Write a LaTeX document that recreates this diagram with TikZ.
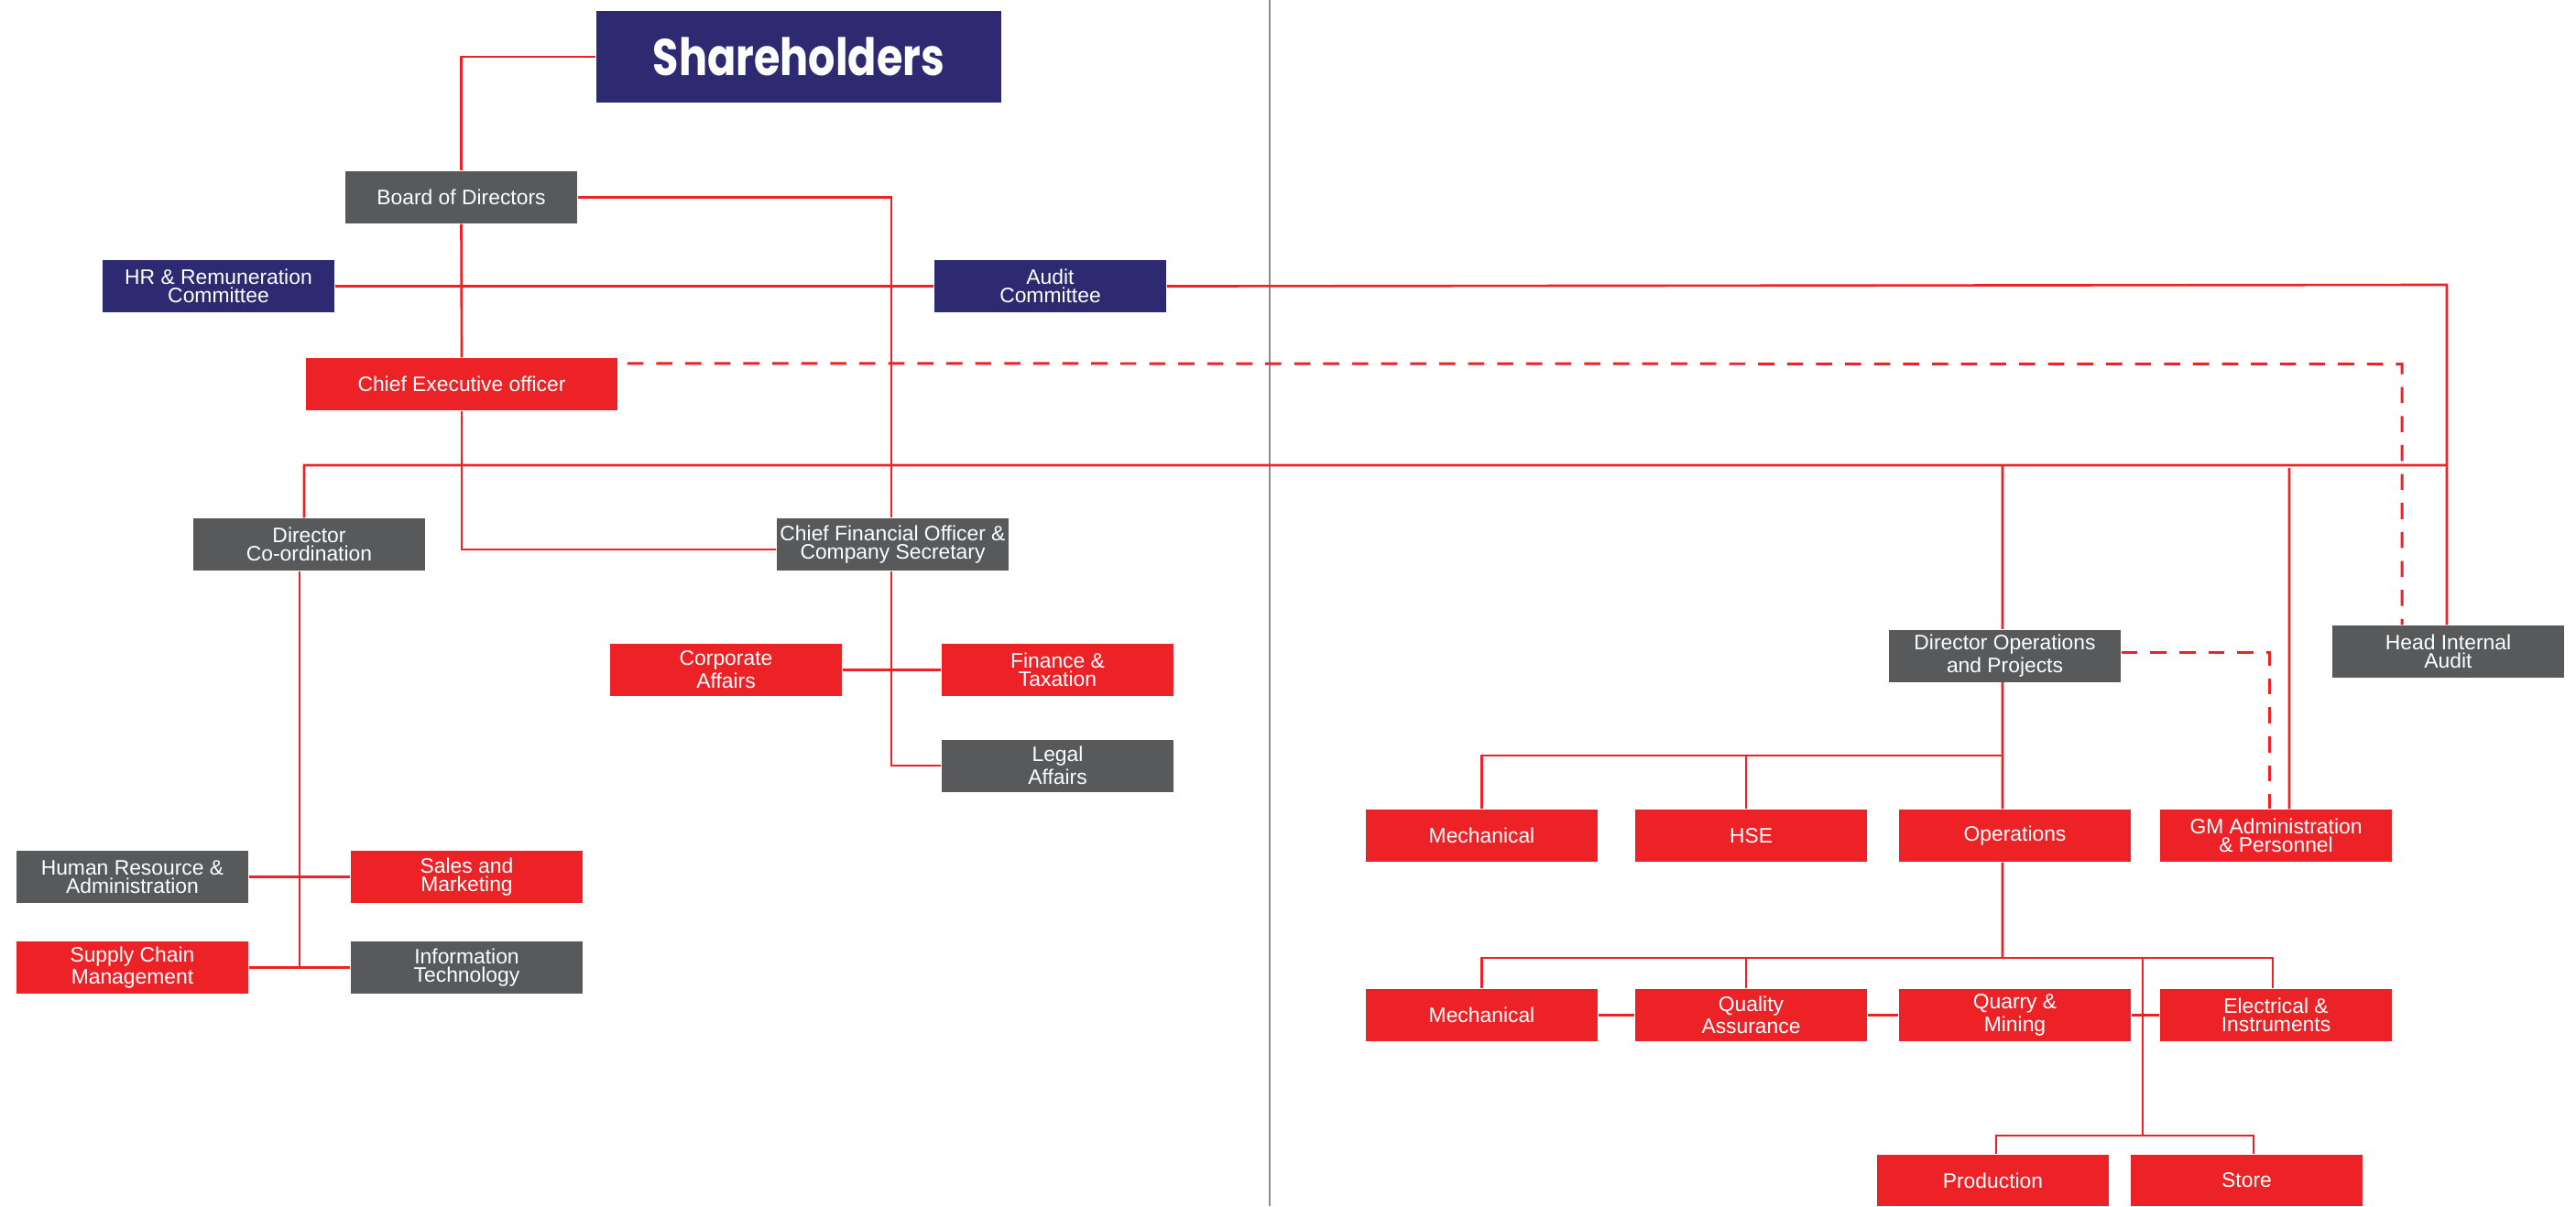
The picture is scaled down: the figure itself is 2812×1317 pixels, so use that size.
\documentclass[tikz,border=0pt]{standalone}
\usepackage{fontspec}
\setmainfont{Liberation Sans}
\newfontfamily\shfont{Poppins}
\definecolor{cred}{HTML}{EC2227}
\definecolor{cnavy}{HTML}{2E2A72}
\definecolor{cgrey}{HTML}{58595B}
\definecolor{csep}{HTML}{8C8C8C}
\tikzset{
  box/.style={inner sep=0pt, minimum width=2.53cm, minimum height=0.57cm, text=white, align=center, font=\fontsize{6.5}{5.8}\selectfont},
  redbox/.style={box, fill=cred},
  greybox/.style={box, fill=cgrey},
  navybox/.style={box, fill=cnavy},
  conn/.style={draw=cred, line width=0.75pt},
  dconn/.style={draw=cred, line width=0.85pt, dash pattern=on 5pt off 4pt},
}
\begin{document}
\begin{tikzpicture}[x=0.01cm, y=-0.01cm]
\useasboundingbox (0,0) rectangle (2812,1317);
% separator
\draw[csep, line width=0.6pt] (1386,0) -- (1386,1317);

% nodes
\node[navybox, minimum width=4.42cm, minimum height=1.0cm] (sh) at (872,62) {\shfont\bfseries\fontsize{16}{18}\selectfont\scalebox{0.82}[1]{Shareholders}};
\node[greybox] (bod) at (503.5,215.5) {Board of Directors};
\node[navybox] (hr) at (238.5,312.5) {HR \& Remuneration\\Committee};
\node[navybox] (audit) at (1146.5,312.5) {Audit\\Committee};
\node[redbox, minimum width=3.4cm] (ceo) at (504,419.5) {Chief Executive officer};
\node[greybox] (dco) at (337.5,594.5) {Director\\Co-ordination};
\node[greybox] (cfo) at (974.5,594.5) {Chief Financial Officer \&\\Company Secretary};
\node[redbox] (corp) at (792.5,731.5) {Corporate\\Affairs};
\node[redbox] (fin) at (1154.5,731.5) {Finance \&\\Taxation};
\node[greybox] (legal) at (1154.5,836) {Legal\\Affairs};
\node[greybox] (hra) at (144.5,957.5) {Human Resource \&\\Administration};
\node[redbox] (sm) at (509.5,957.5) {Sales and\\Marketing};
\node[redbox] (scm) at (144.5,1056.5) {Supply Chain\\Management};
\node[greybox] (it) at (509.5,1056.5) {Information\\Technology};

\node[greybox] (dop) at (2188.5,716) {Director Operations\\and Projects};
\node[greybox] (hia) at (2672.5,711.5) {Head Internal\\Audit};
\node[redbox] (mech1) at (1617.5,912.5) {\raisebox{-2pt}{Mechanical}};
\node[redbox] (hse) at (1911.5,912.5) {HSE};
\node[redbox] (ops) at (2199.5,912.5) {Operations};
\node[redbox] (gm) at (2484.5,912.5) {GM Administration\\\& Personnel};
\node[redbox] (mech2) at (1617.5,1108.5) {Mechanical};
\node[redbox] (qa) at (1911.5,1108.5) {Quality\\Assurance};
\node[redbox] (qm) at (2199.5,1108.5) {Quarry \&\\Mining};
\node[redbox] (ei) at (2484.5,1108.5) {Electrical \&\\Instruments};
\node[redbox, minimum height=0.56cm] (prod) at (2175.5,1289) {Production};
\node[redbox, minimum height=0.56cm] (store) at (2452.5,1289) {Store};

% coordinates
\coordinate (busL) at (332,508);
\coordinate (busR) at (2671,508);
\coordinate (auditR) at (2671,311);
\coordinate (dashR) at (2622,397.5);
\coordinate (dopbus) at (2186,508);
\coordinate (gmbus) at (2499,511);
\coordinate (b1) at (2186,825);
\coordinate (b2) at (2186,1046);
\coordinate (b3) at (2339,1046);
\coordinate (b4) at (2339,1240);

% connectors
\draw[conn] (sh.west) -| (bod.north);
\draw[conn] (bod.south) -- (ceo.north);
\draw[conn] (bod.east) -| ([xshift=-0.015cm]cfo.north);
\draw[conn] (hr.east) -- (audit.west);
\draw[conn] (audit.east) -- (auditR) -- ([xshift=-0.015cm]hia.north);
\draw[dconn] ([xshift=0.1cm,yshift=-0.065cm]ceo.north east) -- (dashR) -- ([xshift=-0.505cm]hia.north);
\draw[conn] ([xshift=-0.055cm]dco.north) -- (busL) -- (busR);
\draw[conn] (ceo.south) |- ([yshift=-0.055cm]cfo.west);
\draw[conn] ([xshift=-0.015cm]cfo.south) |- (legal.west);
\draw[conn] (corp.east) -- (fin.west);
\draw[conn] ([xshift=-0.105cm]dco.south) -- ([xshift=-0.105cm]dco.south |- scm.east);
\draw[conn] (hra.east) -- (sm.west);
\draw[conn] (scm.east) -- (it.west);

\draw[conn] (dopbus) -- ([xshift=-0.025cm]dop.north);
\draw[conn] (gmbus) -- ([xshift=0.145cm]gm.north);
\draw[dconn] ([yshift=0.04cm]dop.east) -| ([xshift=-0.075cm]gm.north);
\draw[conn] ([xshift=-0.025cm]dop.south) -- ([xshift=-0.135cm]ops.north);
\draw[conn] (mech1.north) |- (b1);
\draw[conn] ([xshift=-0.055cm]hse.north) -- ([xshift=-0.055cm]hse.north |- b1);
\draw[conn] ([xshift=-0.135cm]ops.south) -- (b2);
\draw[conn] (mech2.north) |- (b2) -| ([xshift=-0.035cm]ei.north);
\draw[conn] ([xshift=-0.055cm]qa.north) -- ([xshift=-0.055cm]qa.north |- b2);
\draw[conn] (b3) -- (b4);
\draw[conn] ([xshift=0.035cm]prod.north) |- (b4) -| ([xshift=0.075cm]store.north);
\draw[conn] (mech2.east) -- (qa.west);
\draw[conn] (qa.east) -- (qm.west);
\draw[conn] (qm.east) -- (ei.west);
\end{tikzpicture}
\end{document}
